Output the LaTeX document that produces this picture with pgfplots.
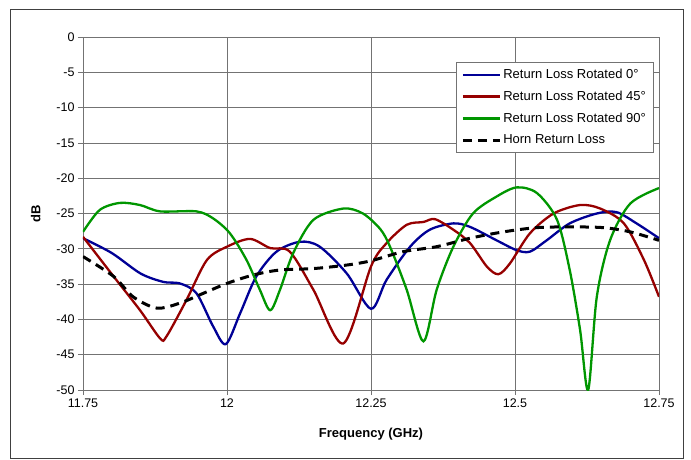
\documentclass[border=0pt]{standalone}
\usepackage{fontspec}
\setmainfont{Liberation Sans}
\usepackage{pgfplots}
\pgfplotsset{compat=1.18}
\definecolor{cblue}{HTML}{000096}
\definecolor{cred}{HTML}{960000}
\definecolor{cgreen}{HTML}{009600}
\begin{document}
\begin{tikzpicture}[x=1pt,y=1pt]
\path[use as bounding box] (0,0) rectangle (691,459);
\draw[black!75, line width=0.8pt] (10,1) rectangle (683,450);
\begin{axis}[at={(83pt,69pt)}, anchor=south west, scale only axis,
  width=576pt, height=353pt,
  xmin=11.75, xmax=12.75, ymin=-50, ymax=0,
  xtick={11.75,12,12.25,12.5,12.75},
  xticklabels={11.75,12,12.25,12.5,12.75},
  ytick={-50,-45,...,0},
  grid=major,
  major grid style={black!55, line width=0.7pt},
  axis line style={black!55, line width=0.9pt},
  tick align=outside, tick pos=left, major tick length=5pt,
  tick style={black!55, line width=0.7pt},
  /pgf/number format/assume math mode=true,
  tick label style={font=\fontsize{12.5}{14}\selectfont},
  xlabel={\bfseries Frequency (GHz)},
  ylabel={\bfseries dB},
  xlabel style={yshift=-14pt},
  ylabel style={yshift=9pt},
  label style={font=\fontsize{13}{15}\selectfont},
  legend style={at={(0.9896,0.929)}, anchor=north east, draw=black!55,
    font=\fontsize{13}{15}\selectfont, row sep=7pt, inner xsep=5pt, inner ysep=5pt},
  legend cell align=left,
  legend image code/.code={\draw[#1] plot coordinates {(0pt,0pt) (18pt,0pt) (37pt,0pt)};},
  clip=true,
]
\addplot[cblue, line width=2.3pt, smooth, tension=0.5] coordinates {
(11.75,-28.5) (11.80,-30.6) (11.85,-33.5) (11.89,-34.7) (11.918,-34.9) (11.947,-36.3)
(11.976,-41.0) (11.998,-43.5) (12.023,-39.1) (12.051,-33.9) (12.086,-30.4) (12.127,-29.0)
(12.161,-29.7) (12.208,-33.5) (12.25,-38.5) (12.277,-34.4) (12.318,-29.7) (12.352,-27.3)
(12.393,-26.4) (12.422,-26.9) (12.468,-28.8) (12.503,-30.2) (12.526,-30.4) (12.555,-28.8)
(12.595,-26.4) (12.642,-25.0) (12.676,-24.8) (12.711,-26.4) (12.75,-28.5)};
\addlegendentry{Return Loss Rotated 0°}
\addplot[cred, line width=2.3pt, smooth, tension=0.5] coordinates {
(11.75,-28.3) (11.803,-33.9) (11.849,-38.7) (11.884,-42.7) (11.895,-42.4) (11.930,-37.2)
(11.965,-31.6) (12.0,-29.7) (12.04,-28.6) (12.075,-29.9) (12.109,-30.4) (12.15,-35.8)
(12.202,-43.4) (12.25,-32.5) (12.277,-29.2) (12.312,-26.6) (12.341,-26.2) (12.361,-25.8)
(12.393,-27.3) (12.422,-29.2) (12.451,-32.5) (12.471,-33.6) (12.491,-32.1) (12.526,-27.8)
(12.567,-25.0) (12.613,-23.8) (12.648,-24.3) (12.689,-26.4) (12.724,-31.6) (12.75,-36.8)};
\addlegendentry{Return Loss Rotated 45°}
\addplot[cgreen, line width=2.3pt, smooth, tension=0.5] coordinates {
(11.75,-27.6) (11.779,-24.5) (11.814,-23.5) (11.849,-23.8) (11.884,-24.7) (11.947,-24.7)
(11.976,-25.7) (12.005,-27.8) (12.034,-31.6) (12.057,-35.8) (12.075,-38.7) (12.092,-35.8)
(12.115,-30.6) (12.150,-25.9) (12.202,-24.3) (12.236,-25.0) (12.266,-27.2) (12.283,-29.7)
(12.312,-35.8) (12.341,-43.1) (12.364,-35.8) (12.393,-29.7) (12.427,-25.0) (12.468,-22.6)
(12.503,-21.3) (12.538,-22.1) (12.573,-25.9) (12.595,-33.0) (12.613,-41.5) (12.627,-50)
(12.642,-36.8) (12.665,-28.8) (12.700,-23.6) (12.75,-21.4)};
\addlegendentry{Return Loss Rotated 90°}
\addplot[black, line width=3pt, dash pattern=on 9pt off 6pt, smooth, tension=0.5] coordinates {
(11.75,-31.1) (11.803,-33.9) (11.837,-36.8) (11.878,-38.4) (11.918,-37.7) (11.959,-36.3)
(12.0,-34.9) (12.046,-33.7) (12.092,-33.0) (12.15,-32.8) (12.208,-32.3) (12.25,-31.7)
(12.306,-30.4) (12.364,-29.7) (12.422,-28.5) (12.48,-27.6) (12.538,-27.0) (12.595,-26.9)
(12.653,-27.0) (12.7,-27.6) (12.75,-28.8)};
\addlegendentry{Horn Return Loss}
\end{axis}
\end{tikzpicture}
\end{document}
